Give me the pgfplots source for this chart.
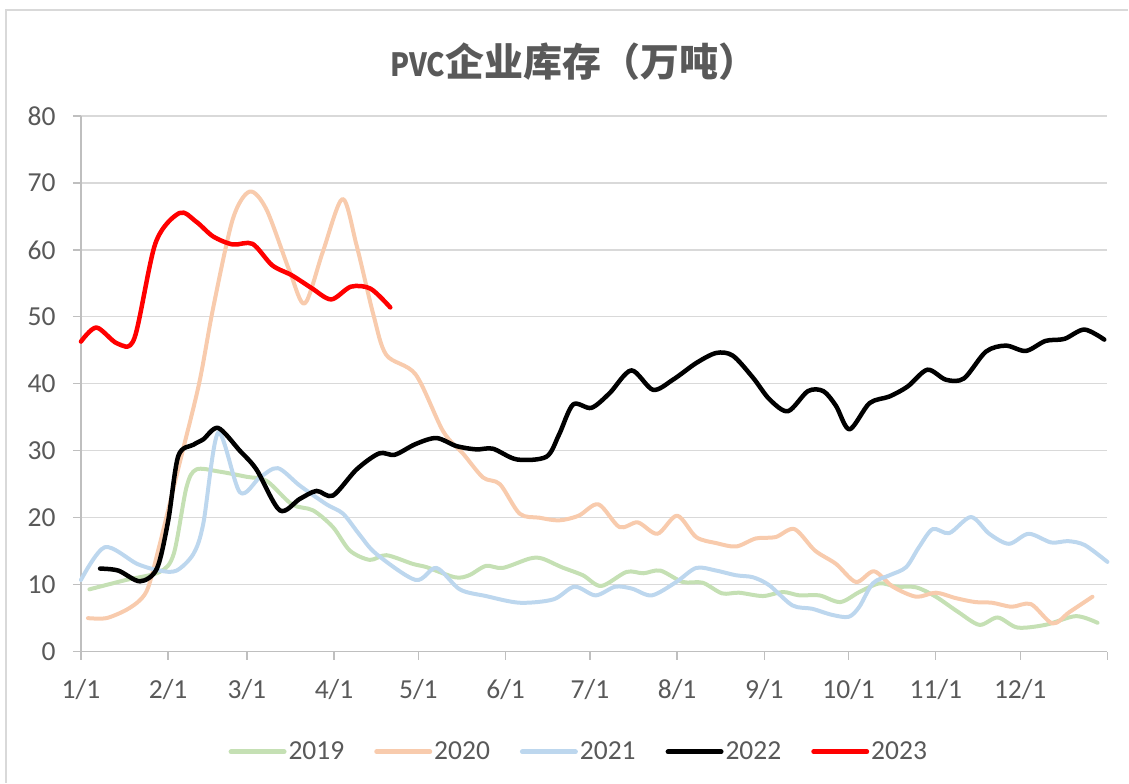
\documentclass[border=0pt]{standalone}
\usepackage{fontspec}
\setmainfont{Carlito}
\newfontfamily\cjk{Noto Sans CJK SC}
\usepackage{graphicx}
\usepackage{pgfplots}
\pgfplotsset{compat=1.18}
\definecolor{c19}{HTML}{C5E0B4}
\definecolor{c20}{HTML}{F8CBAD}
\definecolor{c21}{HTML}{BDD7EE}
\definecolor{txt}{HTML}{595959}
\definecolor{gridc}{HTML}{D9D9D9}
\definecolor{axc}{HTML}{BFBFBF}
\begin{document}
\begin{tikzpicture}
\begin{axis}[
 scale only axis, width=1027pt, height=536pt,
 xmin=0, xmax=365, ymin=0, ymax=80,
 axis x line*=bottom, axis y line*=left,
 axis line style={axc, line width=1.3pt, -},
 xtick={0,31,59,90,120,151,181,212,243,273,304,334,365},
 xticklabels={1/1,2/1,3/1,4/1,5/1,6/1,7/1,8/1,9/1,10/1,11/1,12/1,},
 ytick={0,10,...,80},
 tick align=outside, major tick length=8pt,
 tick style={axc, line width=1.3pt},
 ymajorgrids, grid style={gridc, line width=1.3pt},
 xticklabel style={font=\fontsize{27.5}{30}\selectfont, text=txt, yshift=-16pt},
 yticklabel style={font=\fontsize{27.5}{30}\selectfont, text=txt, xshift=-14pt},
 /pgf/number format/assume math mode=true,
 clip=false,
 legend columns=5,
 legend style={draw=none, at={(0.485,-0.187)}, anchor=center, font=\fontsize{27.5}{30}\selectfont, text=txt,
   /tikz/every even column/.append style={column sep=28pt}},
 legend image code/.code={\draw[#1, line width=5pt, line cap=round] (0pt,0pt) -- (53pt,0pt);},
 every axis plot/.append style={smooth, tension=0.5, line cap=round, line join=round},
]
\addplot[c19, line width=4pt] coordinates {
(3,9.3) (16,10.7) (28,11.9) (33,14.6) (37.5,24.5) (41,27.2) (49,26.9) (59,26.1) (66,25.5) (75,22.0) (82.5,21.1) (89.6,18.6) (95.6,15.1) (102.7,13.7) (108.6,14.4) (118,13.1) (123,12.6) (133,11.1) (138,11.4) (144,12.8) (150,12.5) (159.6,13.9) (164,13.9) (171,12.6) (178.5,11.4) (185,9.8) (194,11.9) (200,11.7) (206,12.1) (214,10.4) (221,10.3) (228,8.7) (234,8.8) (242.5,8.3) (249.6,8.9) (255.5,8.4) (262.6,8.4) (270,7.4) (276.8,8.9) (284,10.2) (290,9.7) (297,9.6) (304,8.2) (312,5.9) (319.5,4.0) (326,5.1) (333,3.6) (343,4.0) (353.8,5.3) (361.5,4.3)
};
\addlegendentry{2019}
\addplot[c20, line width=4pt] coordinates {
(2.5,5.0) (9,5.0) (16,6.2) (21,7.7) (24,9.7) (28,16) (35,28) (42,40) (47,51.3) (54,64.6) (60,68.7) (66,66) (74.3,56.7) (79.6,52.0) (86,59.7) (93,67.6) (98,60.7) (104,50.3) (108.6,44.3) (119,41.4) (128.8,32.9) (136,29.5) (143,26.0) (149,25.0) (156,20.6) (163,20.0) (170,19.6) (177,20.3) (184,22.0) (191.5,18.6) (198,19.3) (205,17.6) (212,20.3) (218.8,17.1) (226,16.2) (233,15.7) (240,16.9) (247,17.1) (253.7,18.3) (261,15.1) (268.5,13.1) (275.6,10.4) (282,12.0) (288.7,9.7) (297,8.2) (304,8.8) (311,8.0) (318,7.4) (324,7.3) (331,6.7) (337.8,7.1) (345.5,4.2) (351.5,5.9) (359.7,8.2)
};
\addlegendentry{2020}
\addplot[c21, line width=4pt] coordinates {
(0,10.7) (8.5,15.6) (20,13.1) (28,12.1) (34,12.1) (40,14.6) (43.5,19.1) (48.8,32.7) (56.5,23.8) (63.6,26.0) (70,27.4) (77.8,24.8) (87.3,22.0) (93.2,20.6) (99,17.5) (105,14.6) (119,10.7) (126.4,12.5) (134.7,9.3) (144,8.3) (156,7.3) (168,7.8) (175.5,9.7) (183,8.4) (190,9.7) (196,9.4) (203,8.4) (211.7,10.4) (218.8,12.5) (225.9,12.1) (233,11.4) (239,11.1) (244.8,9.9) (253,6.9) (260,6.4) (267,5.5) (273,5.2) (276.8,6.7) (281.6,10.2) (287.5,11.4) (293.4,12.6) (298,15.6) (302.9,18.3) (308.8,17.7) (316.5,20.1) (323,17.6) (330,16.1) (337,17.6) (345,16.3) (351,16.5) (357,15.9) (365,13.4)
};
\addlegendentry{2021}
\addplot[black, line width=4.5pt] coordinates {
(6.8,12.4) (13.3,12.1) (21,10.5) (27,12.4) (31,19.5) (34.6,29.2) (40,30.9) (43.5,31.7) (48.8,33.4) (56.5,30.0) (62.4,27.2) (70.7,21.1) (77.8,22.8) (83.8,24.0) (89.6,23.3) (98,27.2) (106,29.6) (111.6,29.4) (119,31.0) (126.4,31.9) (133.5,30.7) (140.6,30.2) (146.5,30.3) (155,28.7) (165.5,29.1) (170,32.4) (175,36.9) (181.5,36.4) (188,38.6) (195.7,42.0) (203.4,39.1) (210.5,40.6) (218.8,43.1) (225.9,44.6) (231.8,44.2) (239,40.9) (244.8,37.7) (251.4,35.9) (258.5,38.9) (264,38.9) (268.5,36.7) (273.3,33.2) (280.4,37.1) (287.5,38.1) (294,39.6) (301,42.1) (307.6,40.6) (314,40.8) (321.8,44.8) (328.9,45.7) (336,44.9) (343,46.4) (349.7,46.7) (356.8,48.1) (363.9,46.6)
};
\addlegendentry{2022}
\addplot[red, line width=4.5pt] coordinates {
(0,46.3) (5.5,48.4) (13,46.0) (19,46.8) (26.5,61) (35,65.5) (41,64.2) (47,62) (54,60.8) (61,60.9) (68,57.7) (75,56.2) (82,54.3) (89,52.6) (96,54.5) (103,54.2) (110,51.4)
};
\addlegendentry{2023}
\end{axis}
\node[text=txt, inner sep=0pt] at ([xshift=493pt,yshift=590pt]current axis.south west) {\scalebox{0.87}[1]{\cjk\bfseries\fontsize{32}{34}\selectfont PVC}{\cjk\fontsize{39}{40}\selectfont\bfseries 企业库存（万吨）}};
\draw[gridc, line width=1.3pt] ([xshift=-75pt,yshift=-131pt]current axis.south west) -- ([xshift=-75pt,yshift=642pt]current axis.south west) -- ([xshift=1048pt,yshift=642pt]current axis.south west);
\path ([xshift=-81pt,yshift=-131pt]current axis.south west) rectangle ([xshift=1048pt,yshift=652pt]current axis.south west);
\end{tikzpicture}
\end{document}
